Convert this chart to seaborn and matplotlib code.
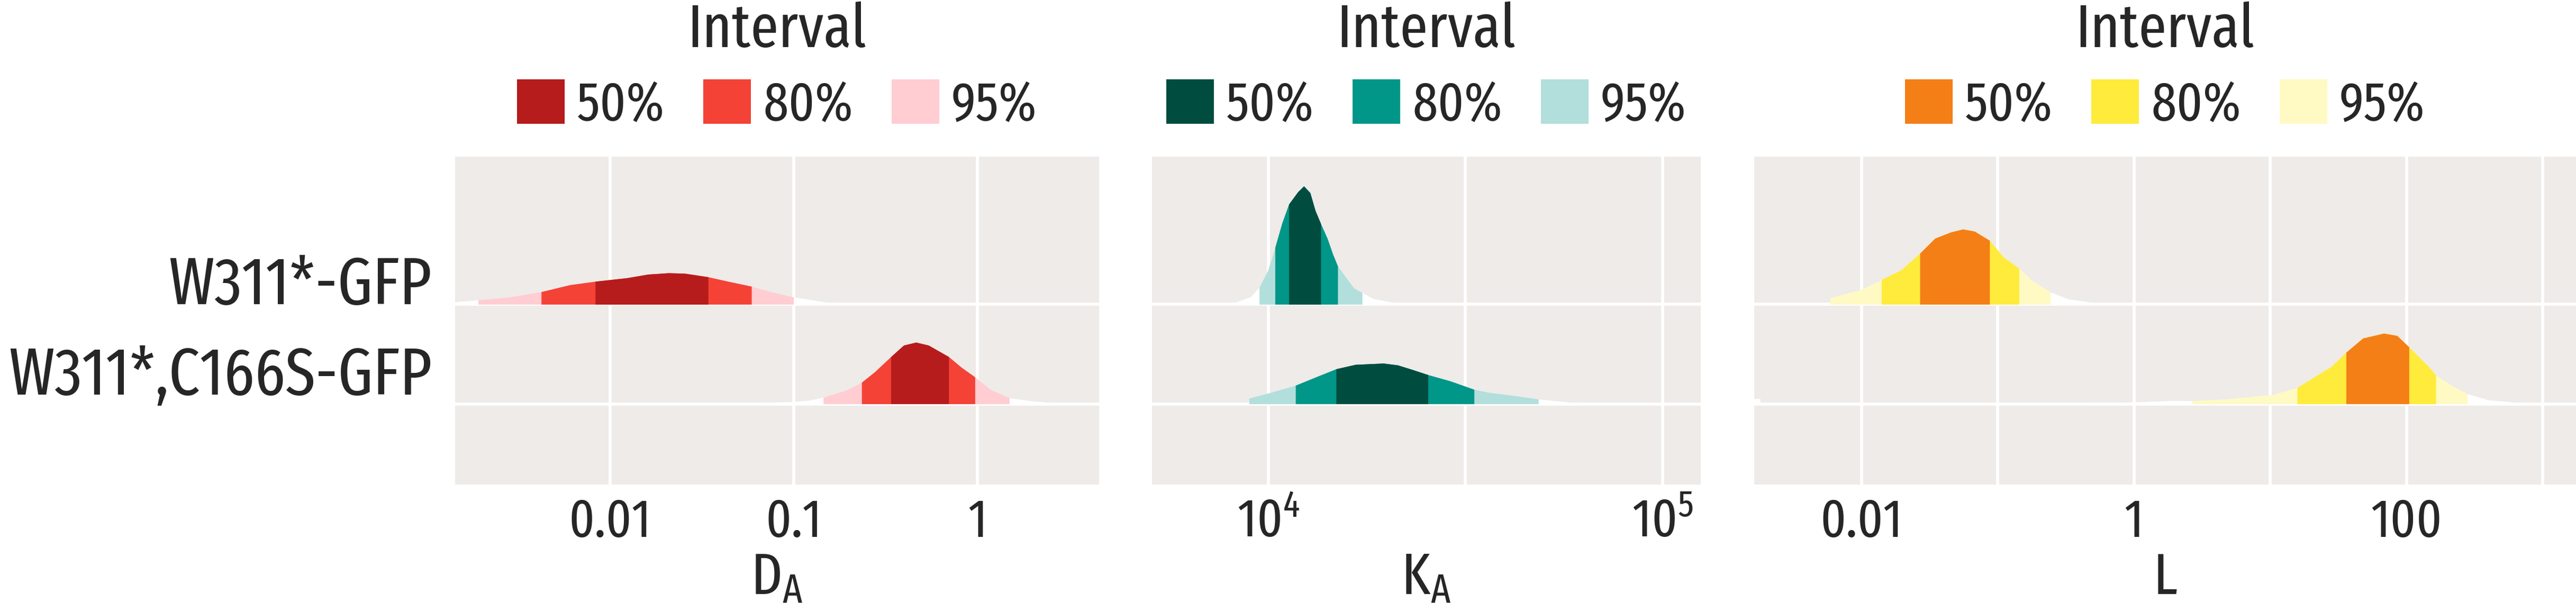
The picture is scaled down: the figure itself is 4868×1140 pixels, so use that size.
import numpy as np
import matplotlib
matplotlib.use("Agg")
import matplotlib.pyplot as plt
from matplotlib.patches import Patch
from matplotlib import font_manager
import matplotlib.transforms as mtransforms
import seaborn as sns

# Datos (posiciones en log10, densidad en unidades arbitrarias).
groups = ["W311*-GFP", "W311*,C166S-GFP"]
levels = ["50%", "80%", "95%"]

# D_A
da_top_log = [-2.849, -2.719, -2.557, -2.375, -2.220, -2.081, -1.906, -1.793, -1.681, -1.591,
              -1.466, -1.344, -1.230, -1.120, -1.001, -0.828, -0.693, -0.491]
da_top_dens = [4.3, 8.3, 13.3, 23.7, 36.7, 43.3, 50.0, 56.7, 59.3, 58.3,
               51.7, 42.3, 34.0, 23.3, 13.7, 4.3, 1.0, 0.0]
da_top_lo = [-2.081, -2.375, -2.719]
da_top_hi = [-1.466, -1.230, -1.001]

da_bot_log = [-1.501, -1.277, -1.007, -0.918, -0.839, -0.715, -0.630, -0.558, -0.471, -0.401,
              -0.334, -0.266, -0.156, -0.087, -0.013, 0.071, 0.174, 0.295, 0.407, 0.672]
da_bot_dens = [0.0, 1.3, 4.0, 6.7, 12.3, 25.7, 40.7, 60.7, 89.0, 110.7,
               116.3, 110.7, 89.0, 69.0, 50.7, 27.3, 11.3, 5.7, 2.0, 0.7]
da_bot_lo = [-0.471, -0.630, -0.839]
da_bot_hi = [-0.156, -0.013, 0.174]

# K_A
ka_top_log = [3.848, 3.910, 3.955, 3.977, 3.999, 4.017, 4.035, 4.052, 4.075, 4.090, 4.106, 4.119,
              4.133, 4.150, 4.164, 4.176, 4.199, 4.217, 4.238, 4.266, 4.301, 4.328, 4.390]
ka_top_dens = [0.0, 2.3, 14.0, 32.3, 64.0, 107.3, 154.0, 189.0, 212.3, 223.3, 210.7, 177.3,
               152.3, 124.0, 94.0, 72.3, 49.0, 30.7, 22.3, 10.7, 5.7, 2.3, 0.0]
ka_top_lo = [4.052, 4.017, 3.977]
ka_top_hi = [4.133, 4.176, 4.238]

ka_bot_log = [3.951, 3.999, 4.069, 4.124, 4.172, 4.221, 4.292, 4.328, 4.364, 4.405,
              4.461, 4.522, 4.559, 4.630, 4.685, 4.772, 4.861, 4.995]
ka_bot_dens = [10.7, 20.0, 35.0, 51.7, 66.0, 74.3, 76.7, 73.3, 65.0, 55.0,
               43.3, 27.3, 21.7, 15.0, 9.0, 2.7, 1.3, 0.3]
ka_bot_lo = [4.172, 4.069, 3.951]
ka_bot_hi = [4.405, 4.522, 4.685]

# L
l_top_log = [-2.231, -2.0, -1.854, -1.711, -1.572, -1.461, -1.345, -1.256, -1.171,
             -1.060, -0.960, -0.844, -0.748, -0.613, -0.478, -0.285, -0.131]
l_top_dens = [12.0, 28.0, 46.3, 64.7, 96.3, 124.7, 136.3, 142.0, 138.0,
              120.7, 89.7, 68.0, 44.7, 23.0, 9.7, 3.0, 0.7]
l_top_lo = [-1.572, -1.854, -2.231]
l_top_hi = [-1.060, -0.844, -0.613]

l_bot_log = [-2.790, -2.744, -2.743, -0.979, -0.015, 0.293, 0.428, 0.678, 1.025, 1.198, 1.449,
             1.557, 1.680, 1.834, 1.931, 2.019, 2.162, 2.216, 2.335, 2.447, 2.605, 2.798, 3.252]
l_bot_dens = [10.0, 10.0, 0.0, 0.7, 3.3, 6.3, 5.7, 9.0, 17.3, 30.7, 70.7,
              97.3, 124.0, 133.3, 129.0, 107.3, 70.7, 54.0, 34.0, 19.0, 7.3, 3.0, 1.3]
l_bot_lo = [1.557, 1.198, 0.428]
l_bot_hi = [2.019, 2.216, 2.447]

red_cols = ["#B71C1C", "#F44336", "#FFCDD2"]
teal_cols = ["#004D40", "#009688", "#B2DFDB"]
yellow_cols = ["#F57F17", "#FFEB3B", "#FFF9C4"]

BG = "#EEEBE8"
DENS_SCALE = 1 / 188.0

sns.set_theme(style="white")

names = {f.name for f in font_manager.fontManager.ttflist}
FONT = "DejaVu Sans"
for cand in ["Fira Sans Extra Condensed", "Fira Sans Condensed", "IBM Plex Sans Condensed",
             "Liberation Sans Narrow"]:
    if cand in names:
        FONT = cand
        break
plt.rcParams["font.family"] = [FONT, "DejaVu Sans"]
plt.rcParams["mathtext.fontset"] = "custom"
plt.rcParams["mathtext.rm"] = FONT
plt.rcParams["mathtext.it"] = FONT

fig = plt.figure(figsize=(48.68, 11.40), dpi=100)
renderer = fig.canvas.get_renderer()


def text_px(text, size):
    t = fig.text(0, 0, text, fontsize=size)
    bb = t.get_window_extent(renderer)
    t.remove()
    return bb.width, bb.height


def pt_w(text, width_px):
    # tamaño en puntos para que el texto mida width_px de ancho
    w, _ = text_px(text, 100)
    return 100 * width_px / w


Y_SIZE = min(pt_w("W311*-GFP", 520), pt_w("W311*,C166S-GFP", 800))
TICK_SIZE = pt_w("0.01", 156)
LEG_SIZE = pt_w("50%", 166)
TITLE_SIZE = pt_w("Interval", 338)
LAB_SIZE = TITLE_SIZE * 0.95
LEG_PX = LEG_SIZE * 100 / 72
TXT_W = text_px("50%", LEG_SIZE)[0]


def draw_slab(ax, logx, dens, lo, hi, base, colors):
    lx = np.array(logx)
    x = 10 ** lx
    y = base + np.array(dens) * DENS_SCALE
    ax.fill_between(x, base, y, color="white", lw=0, zorder=2)
    for i in [2, 1, 0]:
        m = (lx >= lo[i] - 1e-9) & (lx <= hi[i] + 1e-9)
        ax.fill_between(x, base, y, where=m, color=colors[i], lw=0, zorder=5 - i)


def style_axis(ax, xlim, ticks, ticklabels, xlabel, colors, show_y):
    ax.set_facecolor(BG)
    ax.set_xscale("log")
    ax.set_xlim(*xlim)
    ax.set_ylim(-0.81, 2.484)
    ax.set_xticks(ticks)
    ax.set_xticklabels(ticklabels)
    ax.xaxis.set_minor_locator(matplotlib.ticker.NullLocator())
    ax.set_yticks([1, 0])
    ax.grid(True, color="white", lw=4.2)
    ax.set_axisbelow(True)
    ax.tick_params(length=0, labelsize=TICK_SIZE, pad=16)
    ax.tick_params(axis="y", pad=32, labelsize=Y_SIZE)
    if show_y:
        ax.set_yticklabels(groups, va="baseline")
        lab = ax.yaxis.get_major_ticks()[1].label1
        lab.set_transform(lab.get_transform() +
                          mtransforms.ScaledTranslation(0, 0.18, fig.dpi_scale_trans))
    else:
        ax.set_yticklabels([])
    for s in ax.spines.values():
        s.set_visible(False)
    ax.set_xlabel(xlabel, fontsize=LAB_SIZE, labelpad=3)
    handles = [Patch(facecolor=c, edgecolor="none", label=l) for c, l in zip(colors, levels)]
    ax.legend(handles=handles, title="Interval", ncol=3, loc="lower center",
              bbox_to_anchor=(0.5, 1.075), frameon=False, fontsize=LEG_SIZE, title_fontsize=TITLE_SIZE,
              handlelength=90 / LEG_PX, handleheight=90 / LEG_PX, handletextpad=23 / LEG_PX,
              columnspacing=(352 - 90 - 23 - TXT_W) / LEG_PX, borderpad=0, borderaxespad=0,
              labelspacing=0.35)


ax1 = fig.add_axes([860 / 4868, 224 / 1140, 1217 / 4868, 620 / 1140])
ax2 = fig.add_axes([2177 / 4868, 224 / 1140, 1037 / 4868, 620 / 1140])
ax3 = fig.add_axes([3315 / 4868, 224 / 1140, 1553 / 4868, 620 / 1140])

draw_slab(ax1, da_top_log, da_top_dens, da_top_lo, da_top_hi, 1, red_cols)
draw_slab(ax1, da_bot_log, da_bot_dens, da_bot_lo, da_bot_hi, 0, red_cols)
style_axis(ax1, (10 ** -2.844, 10 ** 0.663), [0.01, 0.1, 1], ["0.01", "0.1", "1"],
           r"$\mathregular{D_A}$", red_cols, True)

draw_slab(ax2, ka_top_log, ka_top_dens, ka_top_lo, ka_top_hi, 1, teal_cols)
draw_slab(ax2, ka_bot_log, ka_bot_dens, ka_bot_lo, ka_bot_hi, 0, teal_cols)
style_axis(ax2, (10 ** 3.705, 10 ** 5.097), [1e4, 10 ** 4.5, 1e5],
           [r"$\mathregular{10^4}$", "", r"$\mathregular{10^5}$"],
           r"$\mathregular{K_A}$", teal_cols, False)

draw_slab(ax3, l_top_log, l_top_dens, l_top_lo, l_top_hi, 1, yellow_cols)
draw_slab(ax3, l_bot_log, l_bot_dens, l_bot_lo, l_bot_hi, 0, yellow_cols)
style_axis(ax3, (10 ** -2.788, 10 ** 3.245), [0.01, 0.1, 1, 10, 100, 1000],
           ["0.01", "", "1", "", "100", ""], "L", yellow_cols, False)

fig.savefig("out.png", dpi=100)
